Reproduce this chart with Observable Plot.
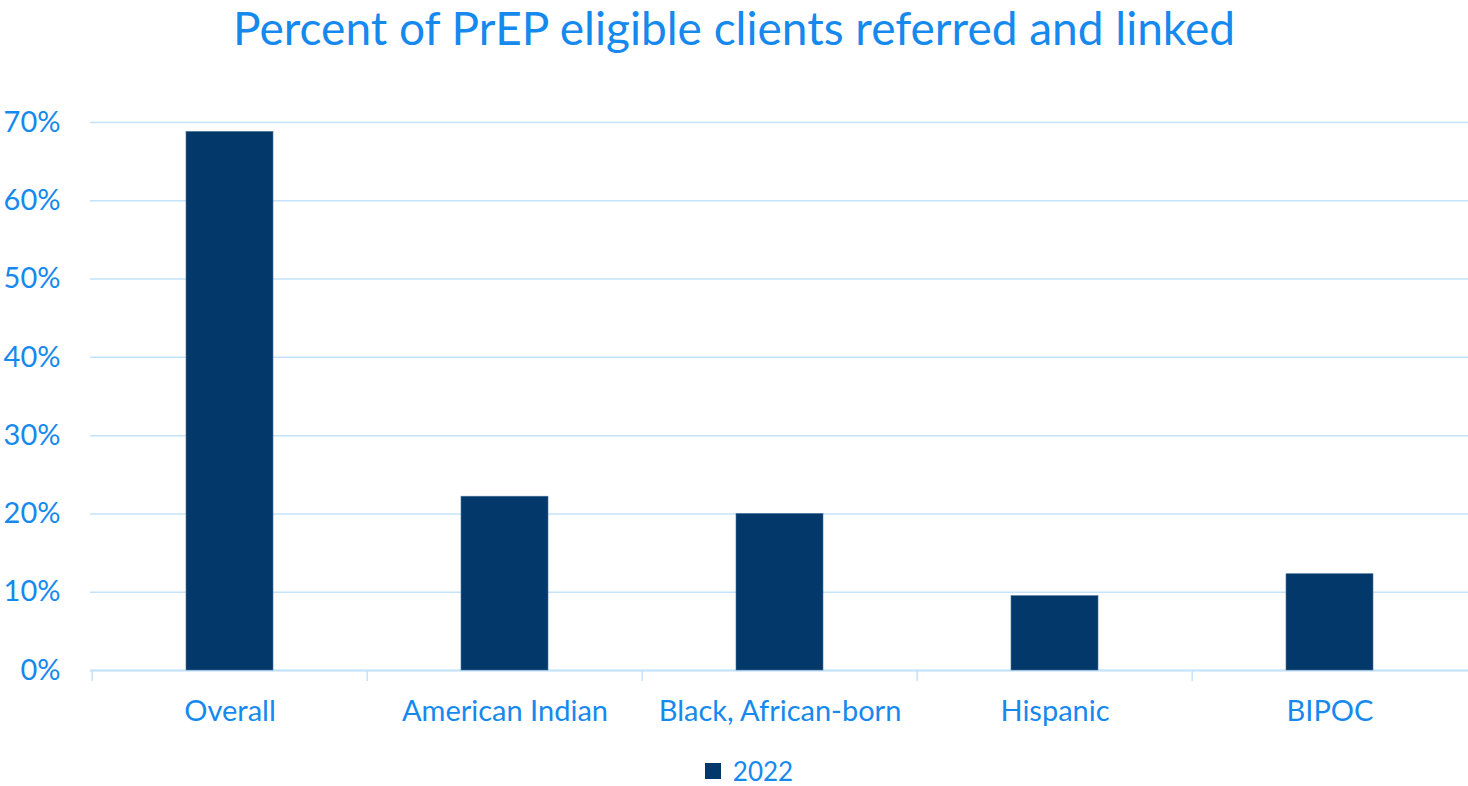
<!DOCTYPE html>
<html>
<head>
<meta charset="utf-8">
<script src="https://cdn.jsdelivr.net/npm/d3@7"></script>
<script src="https://cdn.jsdelivr.net/npm/@observablehq/plot@0.6"></script>
<style>
  html, body { margin: 0; padding: 0; background: #ffffff; }
  body { position: relative; width: 1468px; height: 786px; overflow: hidden; font-family: Lato, "Open Sans", sans-serif; color: #1589ee; }
  #title { text-align: center; font-size: 46px; line-height: 56px; height: 54px; overflow: visible; }
  #legend { position: absolute; left: 0; top: 756px; width: 1468px; height: 30px; display: flex; justify-content: center; align-items: center; font-size: 26px; line-height: 30px; }
  #legend .sw { width: 16px; height: 16px; background: #02386a; margin-right: 12px; margin-left: 30px; }
</style>
</head>
<body>
<div id="title">Percent of PrEP eligible clients referred and linked</div>
<div id="chart"></div>
<div id="legend"><span class="sw"></span><span>2022</span></div>
<script>
const categories = ["Overall", "American Indian", "Black, African-born", "Hispanic", "BIPOC"];
const values2022 = [68.8, 22.2, 20.0, 9.5, 12.3];
const yTicks = [0, 10, 20, 30, 40, 50, 60, 70];

const data = categories.map((c, i) => ({category: c, value: values2022[i]}));

const W = 1468, ML = 90, MR = 0;
const band = (W - ML - MR) / categories.length;

const chart = Plot.plot({
  width: W,
  height: 672,
  marginLeft: ML,
  marginRight: MR,
  marginTop: 68,
  marginBottom: 56,
  style: {color: "#1589ee", fontFamily: "Lato, 'Open Sans', sans-serif", fontSize: "29px", background: "white", overflow: "visible"},
  x: {domain: categories, paddingInner: 0.685, paddingOuter: 0.3425, label: null},
  y: {domain: [0, 70], label: null},
  marks: [
    Plot.gridY(yTicks, {stroke: "#c4e3fa", strokeOpacity: 1, strokeWidth: 1.5}),
    Plot.ruleY([0], {stroke: "#c4e3fa", strokeWidth: 2}),
    Plot.ruleX(categories, {x: d => d, dx: -band / 2, y1: 0, y2: -1.4, stroke: "#c4e3fa", strokeWidth: 1.5}),
    Plot.barY(data, {x: "category", y: "value", fill: "#02386a", stroke: "#4a739a", strokeWidth: 0.6}),
    Plot.axisY(yTicks, {tickSize: 0, tickPadding: 30, tickFormat: d => d + "%", fontSize: 29}),
    Plot.axisX({tickSize: 0, tickPadding: 30, fontSize: 29})
  ]
});
document.getElementById("chart").appendChild(chart);
</script>
</body>
</html>
